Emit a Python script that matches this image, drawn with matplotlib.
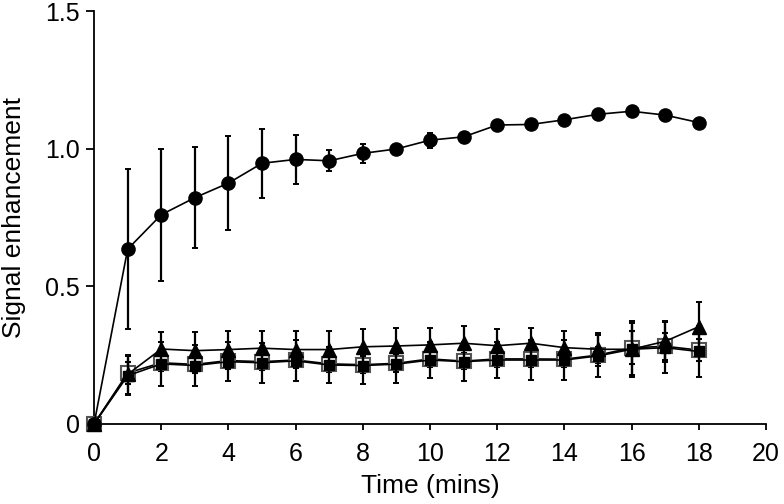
import matplotlib
matplotlib.use('Agg')
import matplotlib.pyplot as plt

plt.rcParams['font.family'] = ['Liberation Sans', 'DejaVu Sans']

# Time points (mins)
time = list(range(0, 19))

# Circles (top series)
circle_mean = [0.0, 0.635, 0.76, 0.822, 0.875, 0.947, 0.961, 0.956, 0.983, 0.999,
               1.031, 1.043, 1.086, 1.088, 1.105, 1.125, 1.136, 1.122, 1.095]
circle_err = [0.0, 0.29, 0.24, 0.183, 0.17, 0.125, 0.088, 0.038, 0.034, 0.012,
              0.027, 0.012, 0.014, 0.01, 0.01, 0.01, 0.01, 0.01, 0.012]

# Triangles
tri_mean = [0.0, 0.18, 0.272, 0.266, 0.27, 0.275, 0.27, 0.27, 0.28, 0.283,
            0.287, 0.293, 0.284, 0.293, 0.277, 0.271, 0.271, 0.30, 0.353]
tri_err = [0.0, 0.07, 0.062, 0.067, 0.069, 0.062, 0.067, 0.067, 0.064, 0.066,
           0.062, 0.063, 0.06, 0.057, 0.06, 0.059, 0.095, 0.075, 0.09]

# Open squares
osq_mean = [0.0, 0.185, 0.222, 0.216, 0.23, 0.226, 0.232, 0.218, 0.215, 0.22,
            0.236, 0.228, 0.236, 0.236, 0.235, 0.25, 0.276, 0.282, 0.268]
osq_err = [0.0, 0.04, 0.03, 0.03, 0.03, 0.03, 0.03, 0.03, 0.03, 0.03,
           0.03, 0.03, 0.03, 0.03, 0.03, 0.03, 0.06, 0.05, 0.04]

# Filled squares
fsq_mean = [0.0, 0.175, 0.218, 0.212, 0.226, 0.222, 0.229, 0.214, 0.212, 0.217,
            0.232, 0.226, 0.232, 0.232, 0.232, 0.247, 0.271, 0.277, 0.263]
fsq_err = [0.0, 0.07, 0.08, 0.074, 0.072, 0.072, 0.075, 0.064, 0.068, 0.067,
           0.066, 0.072, 0.066, 0.072, 0.072, 0.077, 0.101, 0.093, 0.093]

fig = plt.figure(figsize=(7.84, 5.04), dpi=100)
ax = fig.add_axes([0.12, 0.159, 0.857, 0.819])

eb = dict(color='black', ecolor='black', elinewidth=1.6, capsize=2.5, capthick=1.4, lw=1.2)

ax.errorbar(time, osq_mean, yerr=osq_err, marker='s', markersize=10,
            markerfacecolor='white', markeredgecolor='#555555', markeredgewidth=1.5,
            zorder=3, **eb)
ax.errorbar(time, fsq_mean, yerr=fsq_err, marker='s', markersize=7.5,
            markerfacecolor='black', markeredgecolor='black', zorder=4, **eb)
ax.errorbar(time, tri_mean, yerr=tri_err, marker='^', markersize=10,
            markerfacecolor='black', markeredgecolor='black', zorder=5, **eb)
ax.errorbar(time, circle_mean, yerr=circle_err, marker='o', markersize=9.5,
            markerfacecolor='black', markeredgecolor='black', zorder=6, **eb)

ax.set_xlim(0, 20)
ax.set_ylim(0, 1.5)
ax.set_xticks(range(0, 21, 2))
ax.set_yticks([0, 0.5, 1.0, 1.5])
ax.set_yticklabels(['0', '0.5', '1.0', '1.5'])

for side in ['top', 'right']:
    ax.spines[side].set_visible(False)
for side in ['left', 'bottom']:
    ax.spines[side].set_linewidth(1.3)

ax.tick_params(axis='y', direction='out', length=6, width=1.3, labelsize=18, pad=4)
ax.tick_params(axis='x', direction='out', length=4, width=1.3, labelsize=18, pad=9)

ax.set_xlabel('Time (mins)', fontsize=19, labelpad=6)
ax.set_ylabel('Signal enhancement', fontsize=19, labelpad=14)

for ln in ax.get_lines():
    ln.set_clip_on(False)

fig.savefig('out.png', dpi=100)
